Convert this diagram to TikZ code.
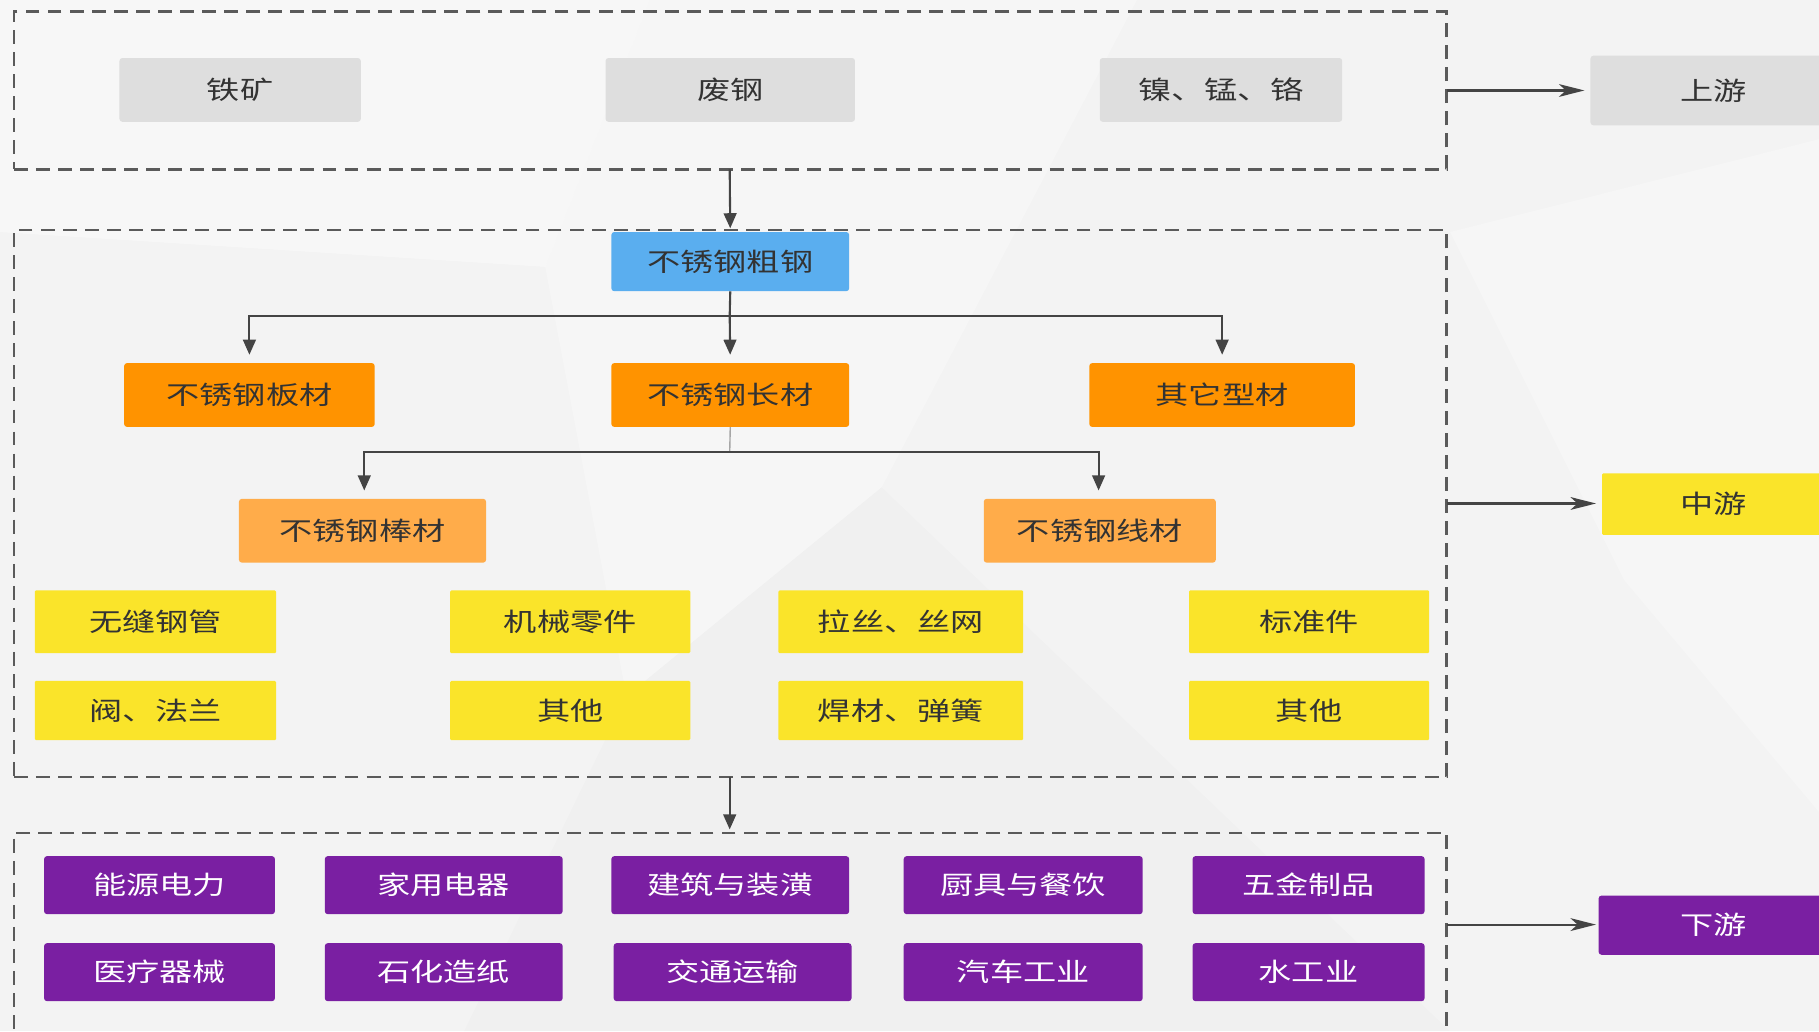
\documentclass[tikz,border=0pt]{standalone}
\usepackage{fontspec}
\setmainfont[FakeStretch=1.3]{Noto Sans CJK SC}
\usetikzlibrary{arrows.meta}
\definecolor{bgc}{HTML}{F3F3F3}
\definecolor{grayb}{HTML}{DEDEDE}
\definecolor{blueb}{HTML}{5AAEEF}
\definecolor{orangeb}{HTML}{FF9300}
\definecolor{lorangeb}{HTML}{FFAC4A}
\definecolor{yellowb}{HTML}{FAE42A}
\definecolor{purpleb}{HTML}{7A1FA2}
\definecolor{txt}{HTML}{333333}
\definecolor{linec}{HTML}{444444}
\definecolor{dashc}{HTML}{5A5A5A}
\tikzset{
  base/.style={inner sep=0pt, rounded corners=2.5pt, font=\fontsize{22}{25}\selectfont, text=txt},
  grayn/.style={base, fill=grayb},
  bluen/.style={base, fill=blueb},
  orangen/.style={base, fill=orangeb},
  lorangen/.style={base, fill=lorangeb},
  yellown/.style={base, fill=yellowb, rounded corners=1pt},
  purplen/.style={base, fill=purpleb, text=white},
  dbox/.style={draw=dashc, line width=2pt, dash pattern=on 12pt off 7pt, inner sep=0pt},
  conn/.style={draw=linec, line width=1.8pt},
  arr/.style={conn, -{Triangle[length=13pt,width=11pt]}},
  harr/.style={conn, -{Stealth[length=22pt,width=11pt,inset=6pt]}}
}
\newcommand\mybox[7]{\node[#6, minimum width={(#4)-(#2)}, minimum height={(#5)-(#3)}] (#1) at ({((#2)+(#4))/2},{((#3)+(#5))/2}) {#7};}
\begin{document}
\begin{tikzpicture}[x=1pt,y=-1pt]
\clip (0,0) rectangle (1568,889);
\fill[bgc] (0,0) rectangle (1568,889);
% faint background facets
\fill[white,opacity=0.4] (0,0) -- (560,0) -- (470,230) -- (0,200) -- cycle;
\fill[white,opacity=0.3] (560,0) -- (980,0) -- (760,420) -- (540,600) -- (470,230) -- cycle;
\fill[white,opacity=0.25] (1250,200) -- (1568,120) -- (1568,700) -- (1400,500) -- cycle;
\fill[black,opacity=0.012] (540,600) -- (760,420) -- (1250,889) -- (400,889) -- cycle;

% dashed group boxes
\mybox{up}{12}{10}{1247}{146}{dbox}{}
\mybox{mid}{12}{198}{1247}{670}{dbox}{}
\mybox{down}{12}{718}{1247}{960}{dbox}{}

% upstream
\mybox{tk}{103}{50}{311}{105}{grayn}{铁矿}
\mybox{fg}{522}{50}{737}{105}{grayn}{废钢}
\mybox{nmg}{948}{50}{1157}{105}{grayn}{镍、锰、铬}
\mybox{sy}{1371}{48}{1583}{108}{grayn}{上游}

% midstream
\mybox{cu}{527}{200}{732}{251}{bluen}{不锈钢粗钢}
\mybox{ban}{107}{313}{323}{368}{orangen}{不锈钢板材}
\mybox{chang}{527}{313}{732}{368}{orangen}{不锈钢长材}
\mybox{qt}{939}{313}{1168}{368}{orangen}{其它型材}
\mybox{bang}{206}{430}{419}{485}{lorangen}{不锈钢棒材}
\mybox{xian}{848}{430}{1048}{485}{lorangen}{不锈钢线材}
\mybox{y1}{30}{509}{238}{563}{yellown}{无缝钢管}
\mybox{y2}{388}{509}{595}{563}{yellown}{机械零件}
\mybox{y3}{671}{509}{882}{563}{yellown}{拉丝、丝网}
\mybox{y4}{1025}{509}{1232}{563}{yellown}{标准件}
\mybox{y5}{30}{587}{238}{638}{yellown}{阀、法兰}
\mybox{y6}{388}{587}{595}{638}{yellown}{其他}
\mybox{y7}{671}{587}{882}{638}{yellown}{焊材、弹簧}
\mybox{y8}{1025}{587}{1232}{638}{yellown}{其他}
\mybox{zy}{1381}{408}{1573}{461}{yellown}{中游}

% downstream
\mybox{p1}{38}{738}{237}{788}{purplen}{能源电力}
\mybox{p2}{280}{738}{485}{788}{purplen}{家用电器}
\mybox{p3}{527}{738}{732}{788}{purplen}{建筑与装潢}
\mybox{p4}{779}{738}{985}{788}{purplen}{厨具与餐饮}
\mybox{p5}{1028}{738}{1228}{788}{purplen}{五金制品}
\mybox{p6}{38}{813}{237}{863}{purplen}{医疗器械}
\mybox{p7}{280}{813}{485}{863}{purplen}{石化造纸}
\mybox{p8}{529}{813}{734}{863}{purplen}{交通运输}
\mybox{p9}{779}{813}{985}{863}{purplen}{汽车工业}
\mybox{p10}{1028}{813}{1228}{863}{purplen}{水工业}
\mybox{xy}{1378}{772}{1576}{823}{purplen}{下游}

% connectors
\coordinate (upR) at (1247,78);
\coordinate (midR) at (1247,434);
\coordinate (downR) at (1247,797);
\draw[harr, shorten >=5pt] (upR) -- (sy.west |- upR);
\draw[harr, shorten >=5pt] (midR) -- (zy.west |- midR);
\draw[harr, shorten >=2pt] (downR) -- (xy.west |- downR);

\draw[arr, shorten >=3pt] (629,146) -- (cu.north);
\draw[arr, shorten >=3pt] (629,670) -- (629,718);

\coordinate (j1) at (629,272);
\draw[conn] (cu.south) -- (j1);
\draw[arr, shorten >=7pt] (j1) -| (ban.north);
\draw[arr, shorten >=7pt] (j1) -- (chang.north);
\draw[arr, shorten >=7pt] (j1) -| (qt.north);

\coordinate (j2) at (629,390);
\draw[draw=gray!70, line width=1.2pt] (chang.south) -- (j2);
\draw[arr, shorten >=7pt] (j2) -| (bang.north -| 314,0);
\draw[arr, shorten >=7pt] (j2) -| (xian.north -| 947,0);
\end{tikzpicture}
\end{document}
